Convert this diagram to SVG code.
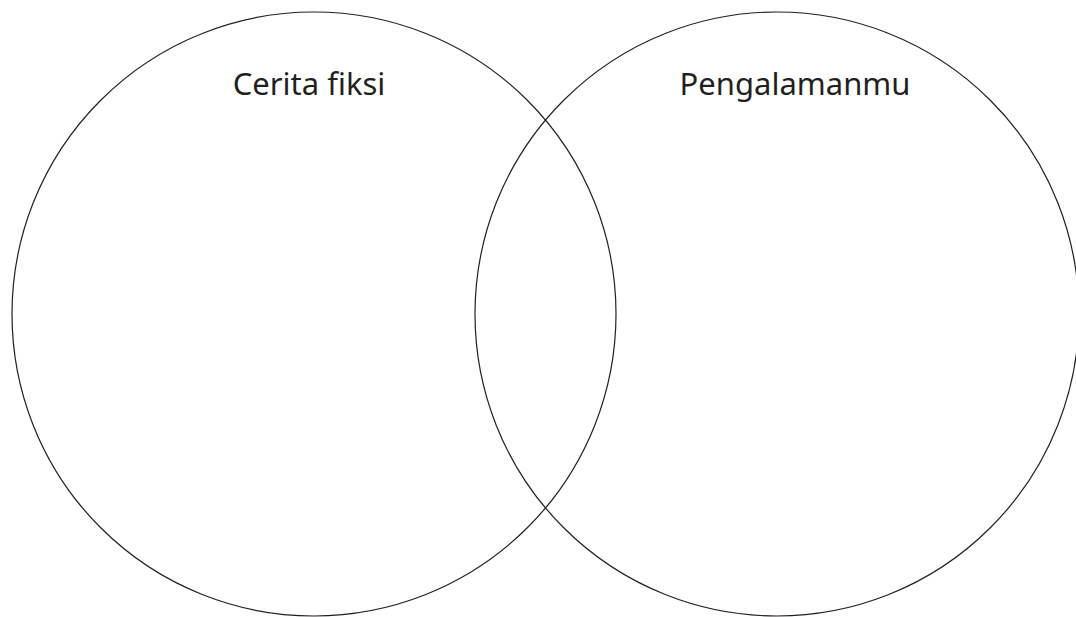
<svg xmlns="http://www.w3.org/2000/svg" width="1076" height="617" viewBox="0 0 1076 617">
<style>
.c{fill:none;stroke:#231f20;stroke-width:1.2}
.t{font-family:"Noto Sans","Open Sans",sans-serif;font-size:31px;fill:#231f20;text-anchor:middle}
</style>
<rect width="1076" height="617" fill="#fff"/>
<g id="left-set">
<circle class="c" cx="314" cy="314" r="302"/>
<text class="t" x="309" y="95">Cerita fiksi</text>
</g>
<g id="right-set">
<circle class="c" cx="777" cy="314" r="302"/>
<text class="t" x="795" y="95">Pengalamanmu</text>
</g>
<g id="connectors"></g>
</svg>
